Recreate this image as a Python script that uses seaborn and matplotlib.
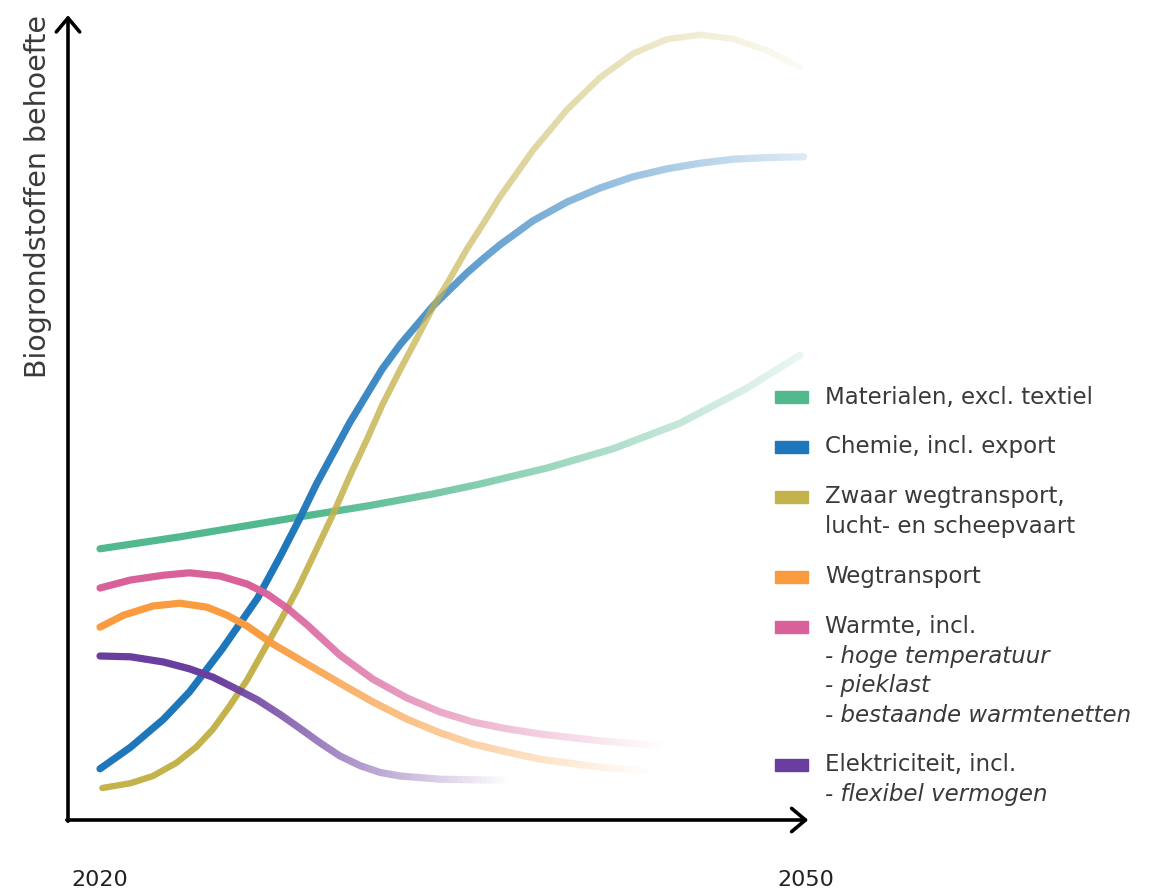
import numpy as np
import pandas as pd
import seaborn as sns
import matplotlib.pyplot as plt
from matplotlib.patches import Rectangle

mat_jaar = [2020.0, 2023.4, 2028.5, 2031.35, 2034.15, 2036.15, 2039.0, 2041.8, 2044.65,
            2047.5, 2049.75]
mat_waarde = [33.9, 35.4, 37.9, 39.25, 40.75, 42.0, 44.0, 46.4, 49.6, 54.0, 58.1]

chem_jaar = [2020.0, 2021.3, 2022.7, 2023.8, 2025.2, 2026.7, 2027.65, 2028.5, 2029.2,
             2029.9, 2030.6, 2031.35, 2032.0, 2032.75, 2033.5, 2034.15, 2034.9, 2035.6,
             2036.3, 2037.0, 2038.4, 2039.85, 2041.25, 2042.65, 2044.1, 2045.5, 2046.9,
             2048.35, 2049.9]
chem_waarde = [6.4, 9.1, 12.6, 16.0, 21.4, 27.75, 32.9, 37.75, 42.0,
               45.8, 49.6, 53.25, 56.4, 59.4, 62.0, 64.25, 66.4, 68.4,
               70.2, 71.9, 74.9, 77.25, 79.0, 80.4, 81.4, 82.1, 82.6,
               82.8, 82.9]

zwaar_jaar = [2020.1, 2021.3, 2022.25, 2023.25, 2024.1, 2024.8, 2025.5, 2026.25, 2026.9,
              2027.65, 2028.4, 2029.05, 2029.9, 2030.6, 2031.35, 2032.0, 2032.75, 2033.5,
              2034.15, 2034.9, 2035.6, 2036.3, 2037.0, 2038.4, 2039.85, 2041.25, 2042.65,
              2044.1, 2045.5, 2046.9, 2048.35, 2049.75]
zwaar_waarde = [4.0, 4.6, 5.5, 7.15, 9.15, 11.35, 14.2, 17.5, 20.9,
                24.8, 28.9, 32.9, 38.2, 42.9, 47.6, 51.9, 56.25, 60.4,
                64.1, 67.8, 71.4, 74.6, 77.9, 83.7, 88.8, 92.8, 95.8,
                97.6, 98.15, 97.65, 96.2, 94.1]

weg_jaar = [2020.0, 2021.0, 2022.25, 2023.4, 2024.55, 2025.4, 2026.25, 2027.35, 2028.8,
            2030.2, 2031.6, 2033.05, 2034.45, 2035.85, 2037.3, 2038.7, 2041.25, 2043.4]
weg_waarde = [24.1, 25.6, 26.75, 27.1, 26.6, 25.6, 24.25, 22.0, 19.5,
              17.1, 14.75, 12.6, 10.9, 9.5, 8.5, 7.6, 6.6, 6.1]

warmte_jaar = [2020.0, 2021.3, 2022.7, 2023.8, 2025.1, 2026.25, 2027.1, 2027.95, 2028.8,
               2029.35, 2030.2, 2031.6, 2033.05, 2034.45, 2035.85, 2037.3, 2038.7,
               2041.25, 2044.0]
warmte_waarde = [29.0, 30.0, 30.6, 30.9, 30.5, 29.5, 28.25, 26.5, 24.4,
                 22.9, 20.6, 17.6, 15.25, 13.5, 12.25, 11.4, 10.75, 9.9, 9.25]

elek_jaar = [2020.0, 2021.3, 2022.7, 2023.8, 2024.8, 2025.65, 2026.7, 2027.65, 2028.5,
             2029.35, 2030.2, 2031.05, 2031.9, 2032.75, 2034.45, 2036.55, 2037.4]
elek_waarde = [20.5, 20.4, 19.75, 18.9, 17.85, 16.6, 15.0, 13.2, 11.45,
               9.65, 8.0, 6.8, 5.95, 5.5, 5.1, 5.0, 5.0]

kleuren = ['#52B98F', '#1F77BB', '#C4B24C', '#F99B3E', '#D9619A', '#6A3E9E']

# legenda: (kleur, regels, cursief)
legenda = [
    (kleuren[0], ['Materialen, excl. textiel'], []),
    (kleuren[1], ['Chemie, incl. export'], []),
    (kleuren[2], ['Zwaar wegtransport,', 'lucht- en scheepvaart'], []),
    (kleuren[3], ['Wegtransport'], []),
    (kleuren[4], ['Warmte, incl.'], ['hoge temperatuur', 'pieklast', 'bestaande warmtenetten']),
    (kleuren[5], ['Elektriciteit, incl.'], ['flexibel vermogen']),
]

sns.set_theme(style='white')
plt.rcParams['font.family'] = ['DejaVu Sans']

W, H = 1160, 894
fig = plt.figure(figsize=(W / 100, H / 100), dpi=100)
ax = fig.add_axes([68 / W, 74 / H, (815 - 68) / W, (820 - 12) / H])
xmin, xmax = 2020 - 32 / 23.53, 2020 + 715 / 23.53
ax.set_xlim(xmin, xmax)
ax.set_ylim(0, 101)
ax.axis('off')

# lijnen met vervaging naar rechts: (start vervaging, eind-alpha, dikte)
reeksen = [
    (mat_jaar, mat_waarde, kleuren[0], 2029.0, 0.12, 5.2),
    (chem_jaar, chem_waarde, kleuren[1], 2028.0, 0.15, 5.2),
    (zwaar_jaar, zwaar_waarde, kleuren[2], 2027.0, 0.05, 4.6),
    (weg_jaar, weg_waarde, kleuren[3], 2026.5, 0.0, 5.2),
    (warmte_jaar, warmte_waarde, kleuren[4], 2026.5, 0.0, 5.2),
    (elek_jaar, elek_waarde, kleuren[5], 2025.0, 0.0, 5.2),
]

for jaar, waarde, kleur, f0, a1, lw in reeksen:
    df = pd.DataFrame({'jaar': jaar, 'waarde': waarde})
    sns.lineplot(data=df, x='jaar', y='waarde', color=kleur, lw=lw, sort=False,
                 estimator=None, ax=ax, solid_capstyle='round', legend=False)
    lijn = ax.lines[-1]
    lijn.set_clip_path(Rectangle((xmin - 1, -10), f0 - xmin + 1, 130, transform=ax.transData))
    randen = np.arange(f0, jaar[-1] + 0.6, 0.2)
    for a, b in zip(randen[:-1], randen[1:]):
        t = min(((a + b) / 2 - f0) / (jaar[-1] - f0), 1.0)
        alpha = 1 - (1 - a1) * t
        if alpha <= 0.005:
            continue
        l, = ax.plot(jaar, waarde, color=kleur, lw=lw, alpha=alpha, solid_capstyle='round')
        l.set_clip_path(Rectangle((a, -10), b - a, 130, transform=ax.transData))

# assen met pijlen
pijl = dict(arrowstyle='->,head_length=0.5,head_width=0.42', lw=2.6, color='black',
            mutation_scale=20, shrinkA=0, shrinkB=0)
ax.annotate('', xy=(2050.1, 0), xytext=(xmin - 0.05, 0), arrowprops=pijl, annotation_clip=False)
ax.annotate('', xy=(xmin, 100.6), xytext=(xmin, -0.15), arrowprops=pijl, annotation_clip=False)

tekst = '#3a3a3a'
fig.text(38 / W, 1 - 197 / H, 'Biogrondstoffen behoefte', rotation=90, ha='center',
         va='center', fontsize=20.5, color=tekst)
fig.text(100 / W, 1 - 880 / H, '2020', ha='center', va='center', fontsize=16, color='#222222')
fig.text(806 / W, 1 - 880 / H, '2050', ha='center', va='center', fontsize=16, color='#222222')

# legenda
y = 397
for kleur, regels, cursief in legenda:
    fig.patches.append(Rectangle((775 / W, 1 - (y + 6) / H), 33 / W, 12 / H, color=kleur,
                                 transform=fig.transFigure, figure=fig))
    for r in regels:
        fig.text(825 / W, 1 - y / H, r, ha='left', va='center', fontsize=16.5, color=tekst)
        y += 29.5
    for r in cursief:
        fig.text(825 / W, 1 - y / H, '- ' + r, ha='left', va='center', fontsize=16.5,
                 color=tekst, style='italic')
        y += 29.5
    y += 20.5

fig.savefig('out.png', dpi=100)
